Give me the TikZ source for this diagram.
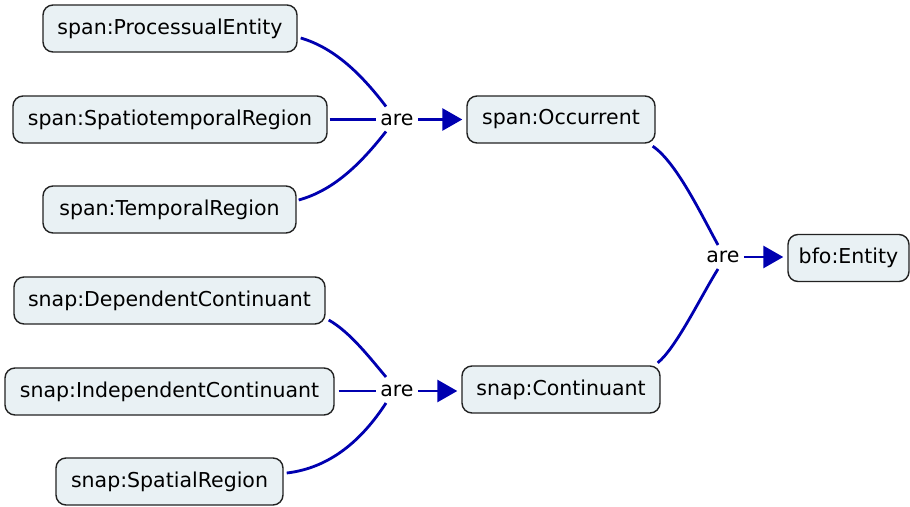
\documentclass[tikz,border=0pt]{standalone}
\usepackage{fontspec}
\setmainfont{DejaVu Sans}
\usetikzlibrary{arrows.meta}
\definecolor{linkblue}{RGB}{0,0,176}
\definecolor{boxfill}{HTML}{E9F1F4}
\definecolor{boxline}{HTML}{222222}
\tikzset{
  concept/.style={draw=boxline, line width=1.4pt, fill=boxfill, rounded corners=10pt,
    minimum height=47pt, inner sep=0pt, font=\fontsize{20.5}{24}\selectfont, text=black},
  linklabel/.style={inner sep=4pt, font=\fontsize{20.5}{24}\selectfont, text=black},
  conn/.style={draw=linkblue, line width=2.8pt},
  arr/.style={conn, -{Triangle[length=20pt,width=22pt]}, shorten >=4pt}
}
\begin{document}
\begin{tikzpicture}[x=1pt,y=-1pt]
\useasboundingbox (0,0) rectangle (910,506);
% concepts
\node[concept, minimum width=254pt] (pe) at (170,28.5) {span:ProcessualEntity};
\node[concept, minimum width=314pt] (st) at (170,119.5) {span:SpatiotemporalRegion};
\node[concept, minimum width=253pt] (tr) at (169.5,209.5) {span:TemporalRegion};
\node[concept, minimum width=188pt] (oc) at (561,119.5) {span:Occurrent};
\node[concept, minimum width=121pt] (en) at (848.5,258) {bfo:Entity};
\node[concept, minimum width=311pt] (dc) at (169.5,300.5) {snap:DependentContinuant};
\node[concept, minimum width=329pt] (ic) at (169.5,391.5) {snap:IndependentContinuant};
\node[concept, minimum width=227pt] (sr) at (169.5,481.5) {snap:SpatialRegion};
\node[concept, minimum width=198pt] (co) at (561,389.5) {snap:Continuant};
% link labels
\node[linklabel] (a1) at (397,119.5) {are};
\node[linklabel] (a2) at (723,257) {are};
\node[linklabel] (a3) at (397,391) {are};
% connectors to a1
\draw[conn] ([shift={(3,9.5)}]pe.east) .. controls (335,48) and (362,75) .. ([shift={(-11,-13)}]a1.center);
\draw[conn] ([xshift=2pt]st.east) -- (st.east -| a1.west);
\draw[conn] ([shift={(2,-9.5)}]tr.east) .. controls (335,190) and (362,162) .. ([shift={(-11,12)}]a1.center);
\draw[arr] (a1.east) -- (a1.east -| oc.west);
% connectors to a3
\draw[conn] ([shift={(3,19.5)}]dc.east) .. controls (350,332) and (370,358) .. ([shift={(-11,-14)}]a3.center);
\draw[conn] ([xshift=4pt]a3.west -| ic.east) -- (a3.west);
\draw[conn] ([shift={(3,-8.5)}]sr.east) .. controls (330,468) and (362,440) .. ([shift={(-11,12)}]a3.center);
\draw[arr] (a3.east) -- (a3.east -| co.west);
% connectors to a2
\draw[conn] ([shift={(-3,2.5)}]oc.south east) .. controls (676,162) and (700,212) .. ([shift={(-5,-12)}]a2.center);
\draw[conn] ([shift={(-3,-2.5)}]co.north east) .. controls (676,348) and (700,298) .. ([shift={(-5,12)}]a2.center);
\draw[arr] (a2.east) -- (a2.east -| en.west);
\end{tikzpicture}
\end{document}
